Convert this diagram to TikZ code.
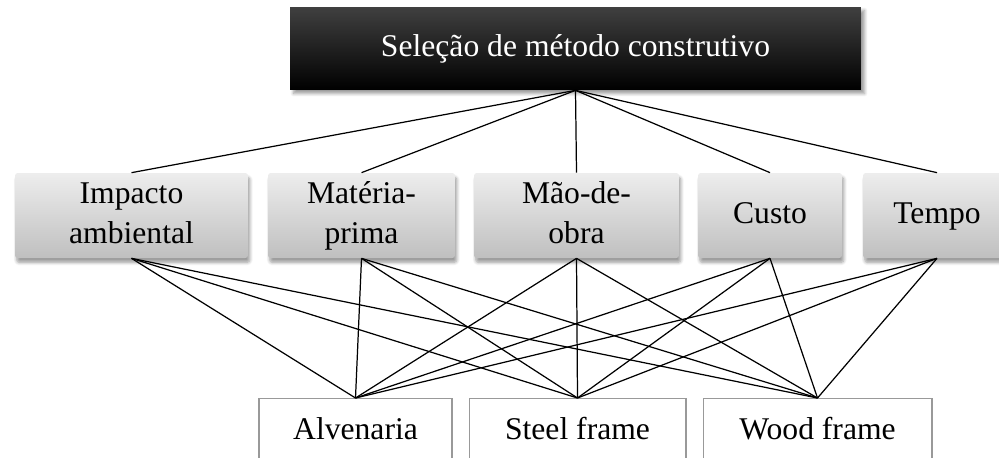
\documentclass[tikz,border=0pt]{standalone}
\usepackage{fontspec}
\setmainfont{Liberation Serif}
\usetikzlibrary{shadows.blur}

\begin{document}
\begin{tikzpicture}[x=0.02cm,y=-0.02cm,
    goal/.style={minimum width=11.42cm,minimum height=1.66cm,inner sep=0pt,
      top color=black!75,middle color=black,bottom color=black,text=white,
      blur shadow={shadow xshift=2pt,shadow yshift=-2pt,shadow blur steps=6}},
    crit/.style={minimum height=1.7cm,inner sep=0pt,align=center,rounded corners=1.5pt,
      top color=black!7,bottom color=black!25,
      blur shadow={shadow xshift=1pt,shadow yshift=-2.5pt,shadow blur steps=6}},
    alt/.style={minimum height=1.3cm,inner sep=0pt,anchor=north,draw=black!40,line width=0.6pt,fill=white},
    every node/.style={font=\fontsize{18}{23}\selectfont},
    link/.style={line width=0.7pt}]
\useasboundingbox (0,0) rectangle (999,457);

\node (sel) [goal] at (575.5,48.5) {\strut Seleção de método construtivo};

\node (ia) [crit,minimum width=4.66cm] at (131.5,215.5) {\strut Impacto\\\strut ambiental};
\node (mp) [crit,minimum width=3.74cm] at (361.5,215.5) {\strut Matéria-\\\strut prima};
\node (mo) [crit,minimum width=4.1cm] at (576.5,215.5) {\strut Mão-de-\\\strut obra};
\node (cu) [crit,minimum width=2.88cm] at (770,215.5) {\strut Custo};
\node (te) [crit,minimum width=2.96cm] at (937,215.5) {\strut Tempo};

\node (al) [alt,minimum width=3.86cm] at (355.5,398) {\strut Alvenaria};
\node (sf) [alt,minimum width=4.34cm] at (577.5,398) {\strut Steel frame};
\node (wf) [alt,minimum width=4.58cm] at (817.5,398) {\strut Wood frame};

\draw[link] (sel.south) -- (ia.north);
\draw[link] (sel.south) -- (mp.north);
\draw[link] (sel.south) -- (mo.north);
\draw[link] (sel.south) -- (cu.north);
\draw[link] (sel.south) -- (te.north);

\draw[link] (ia.south) -- (al.north);
\draw[link] (ia.south) -- (sf.north);
\draw[link] (ia.south) -- (wf.north);
\draw[link] (mp.south) -- (al.north);
\draw[link] (mp.south) -- (sf.north);
\draw[link] (mp.south) -- (wf.north);
\draw[link] (mo.south) -- (al.north);
\draw[link] (mo.south) -- (sf.north);
\draw[link] (mo.south) -- (wf.north);
\draw[link] (cu.south) -- (al.north);
\draw[link] (cu.south) -- (sf.north);
\draw[link] (cu.south) -- (wf.north);
\draw[link] (te.south) -- (al.north);
\draw[link] (te.south) -- (sf.north);
\draw[link] (te.south) -- (wf.north);
\end{tikzpicture}
\end{document}
